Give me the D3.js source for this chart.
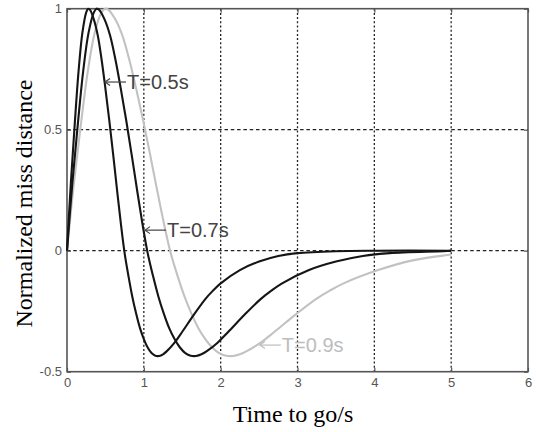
<!DOCTYPE html>
<html><head><meta charset="utf-8">
<script src="https://cdn.jsdelivr.net/npm/d3@7"></script>
<style>body{margin:0;background:#fff}svg{display:block}</style>
</head><body><svg id="c" width="536" height="432"></svg>
<script>
// ---- data ----
const xTicks = [0, 1, 2, 3, 4, 5, 6];
const yTicks = [-0.5, 0, 0.5, 1];
const seriesNames = ["T=0.5s", "T=0.7s", "T=0.9s"];

const time05 = [0,0.05,0.1,0.15,0.2,0.25,0.275,0.3,0.35,0.4,0.45,0.5,0.55,0.6,0.65,0.7,0.75,0.8,0.85,0.9,0.95,1.0,1.05,1.1,1.15,1.2,1.25,1.3,1.4,1.5,1.65,1.8,1.9,2.0,2.25,2.5,2.75,3.0,3.5,4.0,5.0];
const miss05 = [0,0.28,0.52,0.74,0.90,0.985,1.0,0.995,0.955,0.89,0.79,0.67,0.54,0.40,0.255,0.115,-0.01,-0.105,-0.19,-0.26,-0.32,-0.365,-0.40,-0.423,-0.434,-0.435,-0.428,-0.415,-0.38,-0.335,-0.265,-0.20,-0.165,-0.135,-0.08,-0.045,-0.022,-0.01,-0.002,0,0];

const time07 = [0,0.07,0.14,0.21,0.28,0.35,0.385,0.42,0.49,0.56,0.63,0.7,0.77,0.84,0.91,0.98,1.05,1.12,1.19,1.26,1.33,1.4,1.47,1.54,1.61,1.68,1.75,1.82,1.96,2.1,2.31,2.52,2.66,2.8,3.15,3.5,3.85,4.2,4.9,5.0];
const miss07 = [0,0.28,0.52,0.74,0.90,0.985,1.0,0.995,0.955,0.89,0.79,0.67,0.54,0.40,0.255,0.115,-0.01,-0.105,-0.19,-0.26,-0.32,-0.365,-0.40,-0.423,-0.434,-0.435,-0.428,-0.415,-0.38,-0.335,-0.265,-0.20,-0.165,-0.135,-0.08,-0.045,-0.022,-0.01,-0.002,0];

const time09 = [0,0.09,0.18,0.27,0.36,0.45,0.495,0.54,0.63,0.72,0.81,0.9,0.99,1.08,1.17,1.26,1.35,1.44,1.53,1.62,1.71,1.8,1.89,1.98,2.07,2.16,2.25,2.34,2.52,2.7,2.97,3.24,3.42,3.6,4.05,4.5,4.95,5.0];
const miss09 = [0,0.28,0.52,0.74,0.90,0.985,1.0,0.995,0.955,0.89,0.79,0.67,0.54,0.40,0.255,0.115,-0.01,-0.105,-0.19,-0.26,-0.32,-0.365,-0.40,-0.423,-0.434,-0.435,-0.428,-0.415,-0.38,-0.335,-0.265,-0.20,-0.165,-0.135,-0.08,-0.04,-0.018,-0.016];

const labelTime = [0.495, 1.015, 2.51];
const labelMiss = [0.697, 0.085, -0.39];

// ---- drawing ----
const svg = d3.select("#c");
const L = 67, R = 528, T = 8.7, B = 371.7;
const x = d3.scaleLinear().domain([0, 6]).range([L, R]);
const y = d3.scaleLinear().domain([-0.5, 1]).range([B, T]);

const colors = ["#151515", "#151515", "#c2c2c2"];
const frameColor = "#555";
const fmt = d => String(d);

// grid
const g = svg.append("g");
g.selectAll("line.vg").data(xTicks.filter(d => d > 0 && d < 6)).join("line")
  .attr("x1", d => x(d)).attr("x2", d => x(d)).attr("y1", T).attr("y2", B)
  .attr("stroke", "#222").attr("stroke-width", 1.3).attr("stroke-dasharray", "2,2.2");
g.selectAll("line.hg").data(yTicks.filter(d => d > -0.5 && d < 1)).join("line")
  .attr("x1", L).attr("x2", R).attr("y1", d => y(d)).attr("y2", d => y(d))
  .attr("stroke", "#222").attr("stroke-width", 1.3).attr("stroke-dasharray", "3.5,2.8");

// axes
const tickFont = "Liberation Sans, Arial, sans-serif";
function styleAxis(sel, showText) {
  sel.select(".domain").remove();
  sel.selectAll(".tick line").attr("stroke", frameColor).attr("stroke-width", 1.2);
  sel.selectAll(".tick text").attr("fill", "#555").style("font-family", tickFont).style("font-size", "13px");
  if (!showText) sel.selectAll(".tick text").remove();
}
svg.append("g").attr("transform", `translate(0,${B})`)
  .call(d3.axisBottom(x).tickValues(xTicks).tickFormat(fmt).tickSizeInner(-4).tickSizeOuter(0).tickPadding(6))
  .call(s => styleAxis(s, true));
svg.append("g").attr("transform", `translate(0,${T})`)
  .call(d3.axisTop(x).tickValues(xTicks).tickSizeInner(-4).tickSizeOuter(0))
  .call(s => styleAxis(s, false));
svg.append("g").attr("transform", `translate(${L},0)`)
  .call(d3.axisLeft(y).tickValues(yTicks).tickFormat(fmt).tickSizeInner(-4).tickSizeOuter(0).tickPadding(5))
  .call(s => styleAxis(s, true));
svg.append("g").attr("transform", `translate(${R},0)`)
  .call(d3.axisRight(y).tickValues(yTicks).tickSizeInner(-4).tickSizeOuter(0))
  .call(s => styleAxis(s, false));

// frame
svg.append("rect").attr("x", L).attr("y", T).attr("width", R - L).attr("height", B - T)
  .attr("fill", "none").attr("stroke", frameColor).attr("stroke-width", 1.6);

// curves
const series = [
  {name: seriesNames[0], t: time05, m: miss05},
  {name: seriesNames[1], t: time07, m: miss07},
  {name: seriesNames[2], t: time09, m: miss09}
];
const line = d3.line().x(d => x(d[0])).y(d => y(d[1])).curve(d3.curveCatmullRom.alpha(0.5));
const order = [2, 1, 0];
order.forEach(i => {
  const s = series[i];
  svg.append("path").datum(s.t.map((t, k) => [t, s.m[k]]))
    .attr("d", line).attr("fill", "none").attr("stroke", colors[i])
    .attr("stroke-width", 2.1).attr("stroke-linejoin", "round");
});

// annotations
const annColors = ["#444", "#444", "#bdbdbd"];
series.forEach((s, i) => {
  const tx = x(labelTime[i]), ty = y(labelMiss[i]);
  const ga = svg.append("g").attr("stroke", annColors[i]).attr("stroke-width", 1.2).attr("fill", "none");
  ga.append("line").attr("x1", tx).attr("x2", tx + 21).attr("y1", ty).attr("y2", ty);
  ga.append("path").attr("d", `M${tx + 5},${ty - 3.5} L${tx},${ty} L${tx + 5},${ty + 3.5}`);
  svg.append("text").attr("x", tx + 22).attr("y", ty + 7)
    .attr("fill", annColors[i]).style("font-family", tickFont).style("font-size", "20px")
    .text(s.name);
});

// axis titles
const titleFont = "Liberation Serif, Times New Roman, serif";
svg.append("text").attr("x", 293).attr("y", 422).attr("text-anchor", "middle")
  .style("font-family", titleFont).style("font-size", "24px").attr("fill", "#000")
  .text("Time to go/s");
svg.append("text").attr("transform", "translate(32,203.5) rotate(-90)").attr("text-anchor", "middle")
  .style("font-family", titleFont).style("font-size", "24px").attr("fill", "#000")
  .text("Normalized miss distance");
</script></body></html>
